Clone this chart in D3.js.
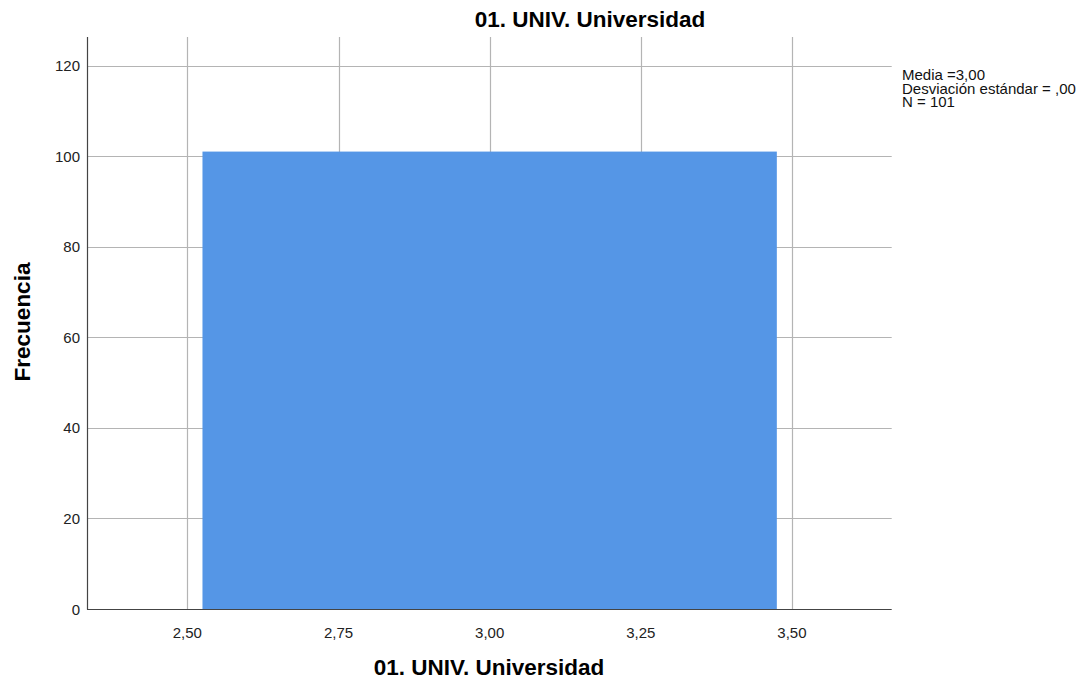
<!DOCTYPE html>
<html>
<head>
<meta charset="utf-8">
<script src="https://cdn.jsdelivr.net/npm/d3@7"></script>
<style>
  body { margin: 0; background: #fff; }
  text { font-family: "Liberation Sans", Arial, sans-serif; }
</style>
</head>
<body>
<script>
  var w = 1086 //width
  var h = 682 //height

  // DATA
  var binStart = [2.525]
  var binEnd = [3.475]
  var counts = [101]
  var xTicks = [2.50, 2.75, 3.00, 3.25, 3.50]
  var yTicks = [0, 20, 40, 60, 80, 100, 120]
  var statLines = ["Media =3,00", "Desviación estándar = ,00", "N = 101"]

  // plot area (don't call it "top", window.top is read-only)
  var padL = 87, padR = 891.7, padT = 37, padB = 609

  //SCALES
  var x = d3.scaleLinear().domain([2.334, 3.665]).range([padL, padR])
  var y = d3.scaleLinear().domain([0, 126.3]).range([padB, padT])

  var svg = d3.select("body").append("svg")
      .attr("width", w)
      .attr("height", h)

  var fmt = function (d) { return d.toFixed(2).replace(".", ",") }

  //GRID
  svg.selectAll(".hgrid").data(yTicks.filter(function (d) { return d > 0 }))
      .enter().append("line")
      .attr("x1", padL).attr("x2", padR)
      .attr("y1", function (d) { return Math.round(y(d)) + 0.5 })
      .attr("y2", function (d) { return Math.round(y(d)) + 0.5 })
      .attr("stroke", "#b4b4b4").attr("stroke-width", 1.2)

  svg.selectAll(".vgrid").data(xTicks)
      .enter().append("line")
      .attr("x1", function (d) { return Math.round(x(d)) + 0.5 })
      .attr("x2", function (d) { return Math.round(x(d)) + 0.5 })
      .attr("y1", padT).attr("y2", padB)
      .attr("stroke", "#b4b4b4").attr("stroke-width", 1.2)

  //BARS
  svg.selectAll("rect").data(counts)
      .enter().append("rect")
      .attr("x", function (d, i) { return x(binStart[i]) })
      .attr("width", function (d, i) { return x(binEnd[i]) - x(binStart[i]) })
      .attr("y", function (d) { return y(d) })
      .attr("height", function (d) { return padB - y(d) })
      .attr("fill", "#5596e6")

  //AXES
  svg.append("line").attr("x1", padL + 0.5).attr("x2", padL + 0.5)
      .attr("y1", padT).attr("y2", padB + 0.5)
      .attr("stroke", "#444").attr("stroke-width", 1.2)
  svg.append("line").attr("x1", padL).attr("x2", padR)
      .attr("y1", padB + 0.5).attr("y2", padB + 0.5)
      .attr("stroke", "#444").attr("stroke-width", 1.2)

  svg.selectAll(".ylab").data(yTicks)
      .enter().append("text")
      .attr("x", 80)
      .attr("y", function (d) { return y(d) + 5.5 })
      .attr("text-anchor", "end")
      .attr("font-size", "15px")
      .attr("fill", "#222")
      .text(function (d) { return d })

  svg.selectAll(".xlab").data(xTicks)
      .enter().append("text")
      .attr("x", function (d) { return x(d) })
      .attr("y", 638)
      .attr("text-anchor", "middle")
      .attr("font-size", "15px")
      .attr("fill", "#222")
      .text(fmt)

  //TITLES
  svg.append("text").attr("x", 590).attr("y", 27)
      .attr("text-anchor", "middle")
      .attr("font-size", "22.5px").attr("font-weight", "bold")
      .text("01. UNIV. Universidad")

  svg.append("text").attr("x", 489).attr("y", 675)
      .attr("text-anchor", "middle")
      .attr("font-size", "22.5px").attr("font-weight", "bold")
      .text("01. UNIV. Universidad")

  svg.append("text")
      .attr("transform", "translate(30," + 322 + ") rotate(-90)")
      .attr("text-anchor", "middle")
      .attr("font-size", "22.5px").attr("font-weight", "bold")
      .text("Frecuencia")

  //STATS
  svg.selectAll(".stat").data(statLines)
      .enter().append("text")
      .attr("x", 902)
      .attr("y", function (d, i) { return 80 + i * 13.5 })
      .attr("font-size", "15px")
      .attr("fill", "#111")
      .text(function (d) { return d })
</script>
</body>
</html>
